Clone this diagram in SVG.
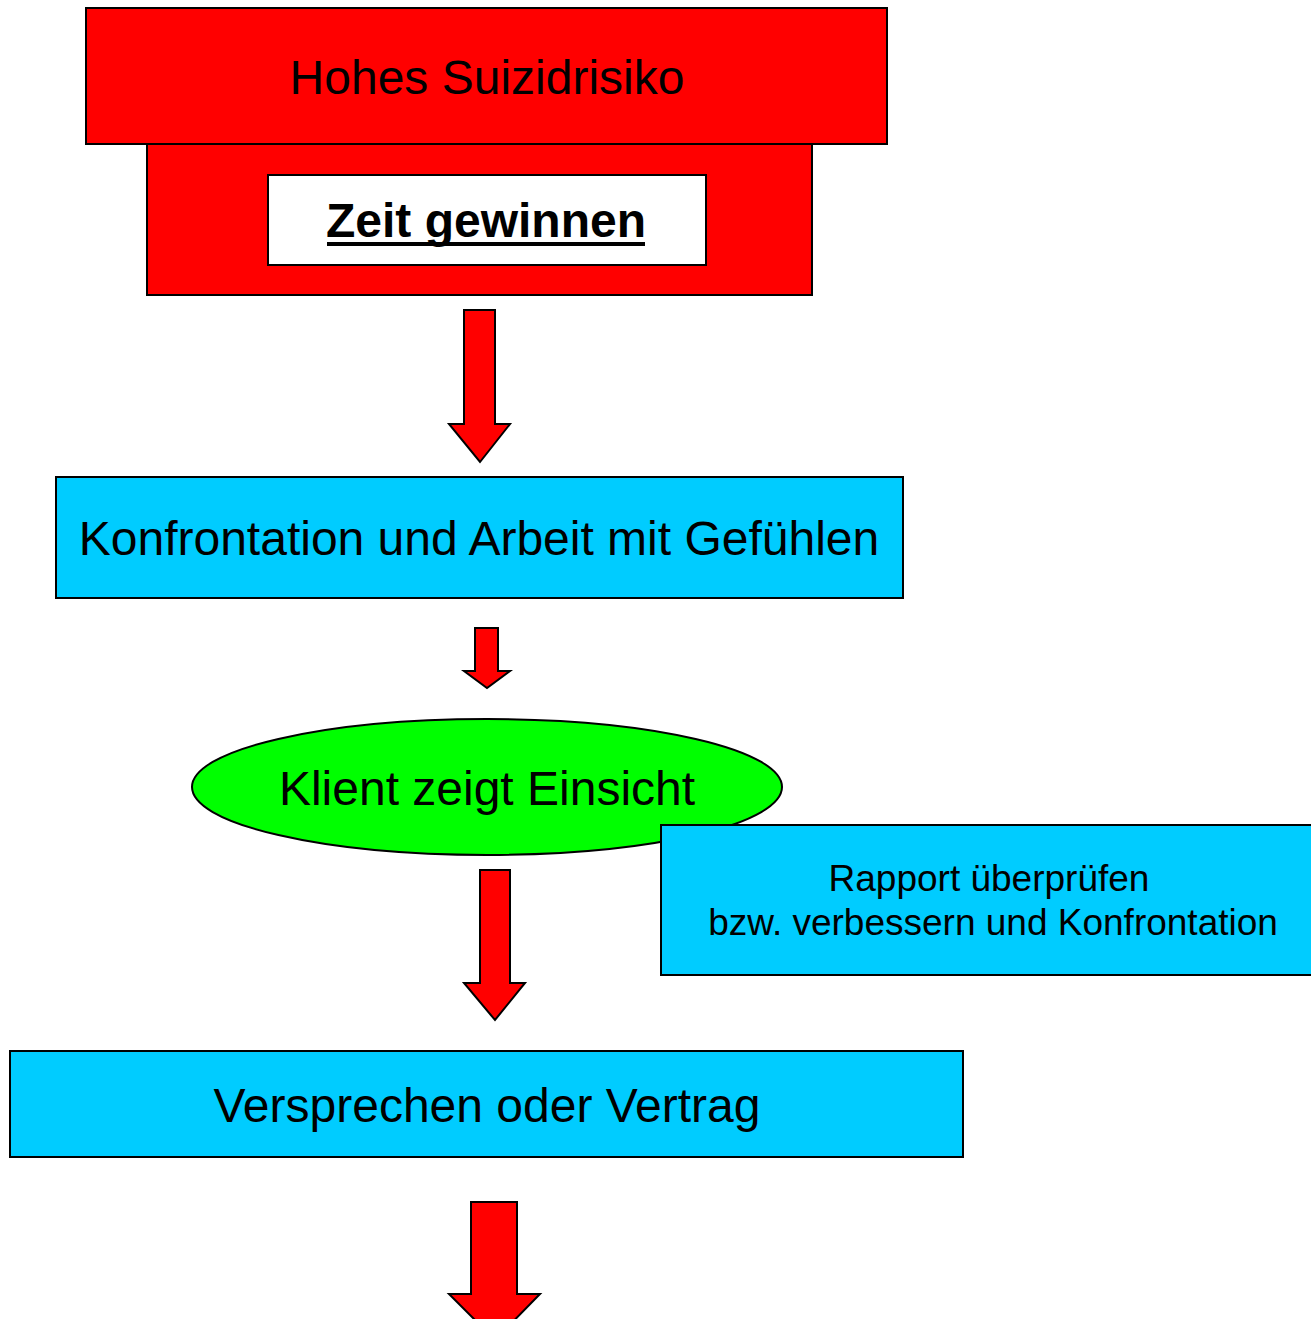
<svg xmlns="http://www.w3.org/2000/svg" width="1311" height="1319" viewBox="0 0 1311 1319">
<style>
.red{fill:#FF0000;stroke:#000;stroke-width:2}
.blue{fill:#00CCFF;stroke:#000;stroke-width:2}
.green{fill:#00FF00;stroke:#000;stroke-width:2}
.white{fill:#FFFFFF;stroke:#000;stroke-width:2}
.arrow{fill:#FF0000;stroke:#000;stroke-width:2;stroke-linejoin:miter}
.t{font-family:"Liberation Sans",Arial,sans-serif;fill:#000;text-anchor:middle}
</style>
<rect width="1311" height="1319" fill="#FFFFFF"/>
<g id="node-hohes">
<rect class="red" x="147" y="144" width="665" height="151"/>
<rect class="red" x="86" y="8" width="801" height="136"/>
<text class="t" x="487" y="94" font-size="48">Hohes Suizidrisiko</text>
</g>
<g id="node-zeit">
<rect class="white" x="268" y="175" width="438" height="90"/>
<text class="t" x="486" y="237" font-size="48" font-weight="bold">Zeit gewinnen</text>
<rect x="327" y="242" width="318" height="4" fill="#000"/>
</g>
<g id="node-konfrontation">
<rect class="blue" x="56" y="477" width="847" height="121"/>
<text class="t" x="479" y="555" font-size="48">Konfrontation und Arbeit mit Gefühlen</text>
</g>
<g id="node-klient">
<ellipse class="green" cx="487" cy="787" rx="295" ry="68"/>
<text class="t" x="487" y="805" font-size="48">Klient zeigt Einsicht</text>
</g>
<g id="node-rapport">
<rect class="blue" x="661" y="825" width="652" height="150"/>
<text class="t" x="989" y="891" font-size="37">Rapport überprüfen</text>
<text class="t" x="993" y="935" font-size="37">bzw. verbessern und Konfrontation</text>
</g>
<g id="node-versprechen">
<rect class="blue" x="10" y="1051" width="953" height="106"/>
<text class="t" x="487" y="1122" font-size="48">Versprechen oder Vertrag</text>
</g>
<g id="connectors">
<polygon class="arrow" points="464,310 495,310 495,424 510,424 480,462 449,424 464,424"/>
<polygon class="arrow" points="475,628 498,628 498,671 510,671 487,688 464,671 475,671"/>
<polygon class="arrow" points="480,870 510,870 510,983 525,983 495,1020 464,983 480,983"/>
<polygon class="arrow" points="471,1202 517,1202 517,1294 540,1294 495,1340 449,1294 471,1294"/>
</g>
</svg>
